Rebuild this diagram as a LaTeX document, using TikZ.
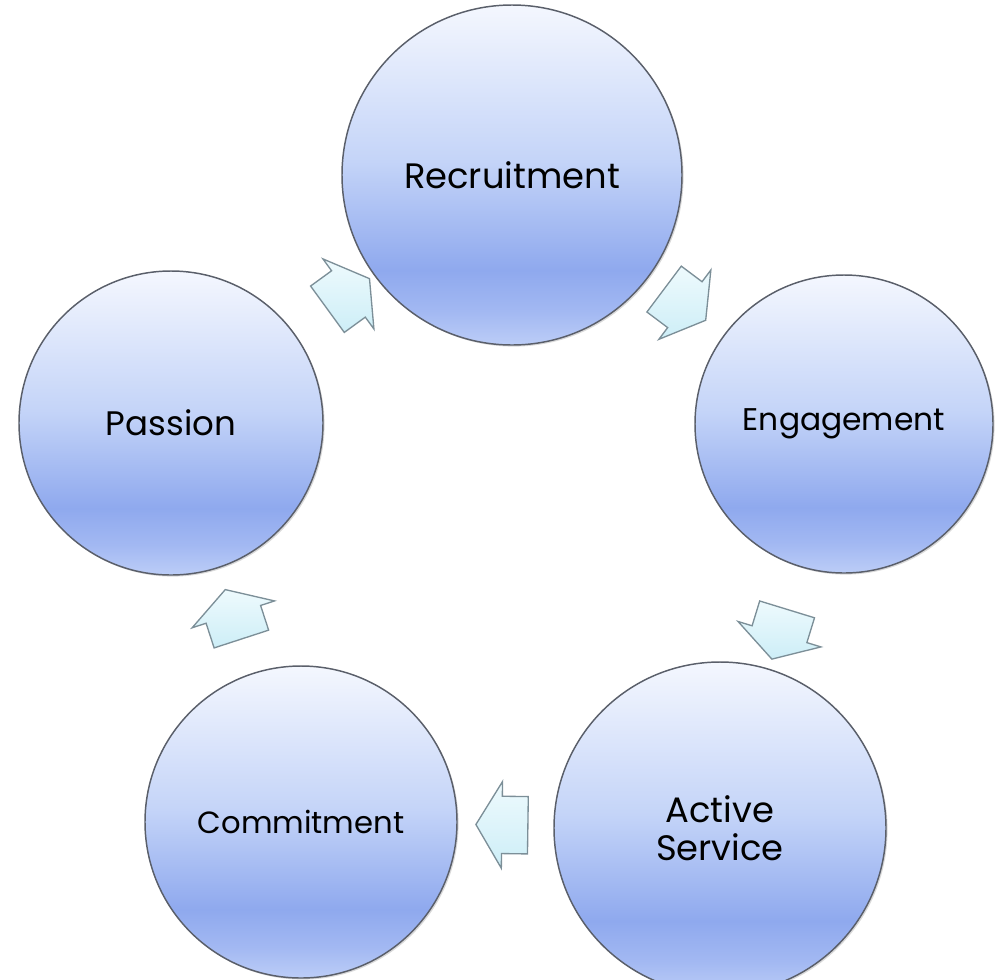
\documentclass[tikz,border=0pt]{standalone}
\usepackage{fontspec}
\setmainfont{Poppins}
\usetikzlibrary{shapes.arrows,shadows,calc}
\definecolor{cA}{HTML}{F4F7FE}
\definecolor{cB}{HTML}{C4D4F8}
\definecolor{cC}{HTML}{8FA9EE}
\definecolor{cD}{HTML}{A2B8F2}
\definecolor{cE}{HTML}{BCCDF7}
\definecolor{rim}{HTML}{5A5F6A}
\definecolor{arrA}{HTML}{EEFAFD}
\definecolor{arrB}{HTML}{CDEEF7}
\definecolor{arrline}{HTML}{7C8F98}
\pgfdeclareverticalshading{circshade}{100bp}{color(0bp)=(cE); color(25bp)=(cE); color(30bp)=(cD); color(36bp)=(cC); color(52bp)=(cB); color(75bp)=(cA); color(100bp)=(cA)}
\tikzset{
  stage/.style={circle, shading=circshade, draw=rim, line width=1.1pt,
    inner sep=0pt, align=center, text=black,
    drop shadow={shadow xshift=1.2pt, shadow yshift=-1.2pt, opacity=0.3}},
  flow/.style={single arrow, inner xsep=0pt, inner ysep=21pt, minimum height=39pt,
    single arrow head extend=11pt, single arrow tip angle=118,
    top color=arrA, bottom color=arrB, draw=arrline, line width=1pt,
    sloped, allow upside down, midway}
}
\begin{document}
\begin{tikzpicture}[x=0.75pt, y=-0.75pt]
\useasboundingbox (0,0) rectangle (996,979);
\node[stage, minimum size=255pt, font=\fontsize{26.5}{32}\selectfont] (rec) at (512,175) {Recruitment};
\node[stage, minimum size=223.5pt, font=\fontsize{23.5}{28}\selectfont] (eng) at (844,424) {Engagement};
\node[stage, minimum size=249pt, font=\fontsize{26.5}{28.5}\selectfont] (act) at (720,828) {Active\\Service};
\node[stage, minimum size=234pt, font=\fontsize{23}{28}\selectfont] (com) at (301,822) {Commitment};
\node[stage, minimum size=228pt, font=\fontsize{25.5}{30}\selectfont] (pas) at (171,423) {Passion};
\path (pas.center) -- (rec.center) node[flow] (a1) {};
\path (rec.center) -- (eng.center) node[flow] (a2) {};
\path (eng.center) -- (act.center) node[flow] (a3) {};
\path (act.center) -- (com.center) node[flow] (a4) {};
\path (com.center) -- (pas.center) node[flow] (a5) {};
\end{tikzpicture}
\end{document}
